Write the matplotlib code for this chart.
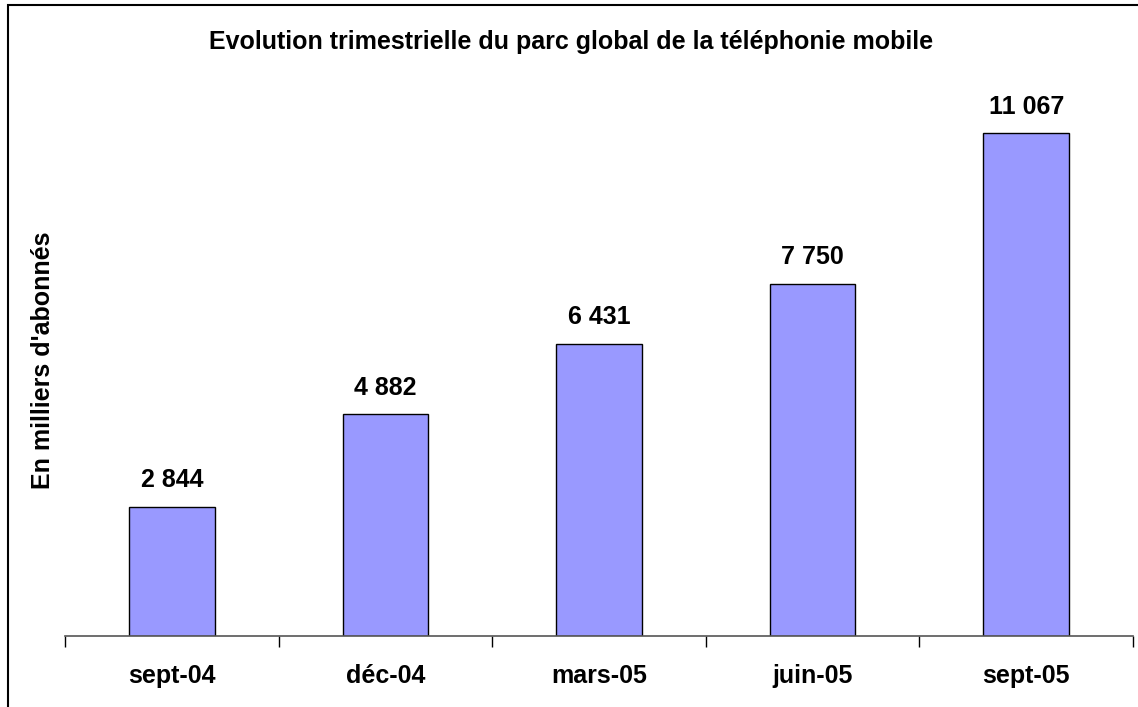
import matplotlib.pyplot as plt
from matplotlib.patches import Rectangle

plt.rcParams['font.family'] = ['Liberation Sans', 'DejaVu Sans']

categories = ['sept-04', 'déc-04', 'mars-05', 'juin-05', 'sept-05']
values = [2844, 4882, 6431, 7750, 11067]
bar_color = '#9999FF'


def fmt(v):
    return f"{v:,}".replace(",", " ")


fig = plt.figure(figsize=(11.38, 7.07), dpi=100)
ax = fig.add_axes([0.0571, 0.1004, 0.9385, 0.7709])

x = list(range(len(categories)))
ax.bar(x, values, width=0.4, color=bar_color, edgecolor='black', linewidth=1)
for xi, v in zip(x, values):
    ax.text(xi, v + 320, fmt(v), ha='center', va='bottom',
            fontsize=18, fontweight='bold')

ax.set_xlim(-0.5, len(categories) - 0.5)
ax.set_ylim(0, 12000)
ax.set_yticks([])
for s in ['left', 'right', 'top']:
    ax.spines[s].set_visible(False)
ax.spines['bottom'].set_color('#555555')
ax.spines['bottom'].set_linewidth(1.2)

# category boundary ticks, labels centred between them
ax.set_xticks([i - 0.5 for i in range(len(categories) + 1)], minor=False)
ax.set_xticklabels([])
ax.tick_params(axis='x', which='major', length=8, width=1, color='black',
               direction='out')
ax.set_xticks(x, minor=True)
ax.set_xticklabels(categories, minor=True, fontsize=18, fontweight='bold')
ax.tick_params(axis='x', which='minor', length=0, pad=20)

fig.text(43 / 1138, 1 - 360 / 707, "En milliers d'abonnés", rotation=90,
         ha='center', va='center', fontsize=18, fontweight='bold')

fig.text(0.502, 1 - 42 / 707, 'Evolution trimestrielle du parc global de la téléphonie mobile',
         ha='center', va='center', fontsize=18, fontweight='bold')

fig.patches.append(Rectangle((8 / 1138, -0.05), 1.2, 1 - 5 / 707 + 0.05,
                             transform=fig.transFigure, fill=False,
                             edgecolor='black', linewidth=1.5))

fig.savefig('out.png', dpi=100)
